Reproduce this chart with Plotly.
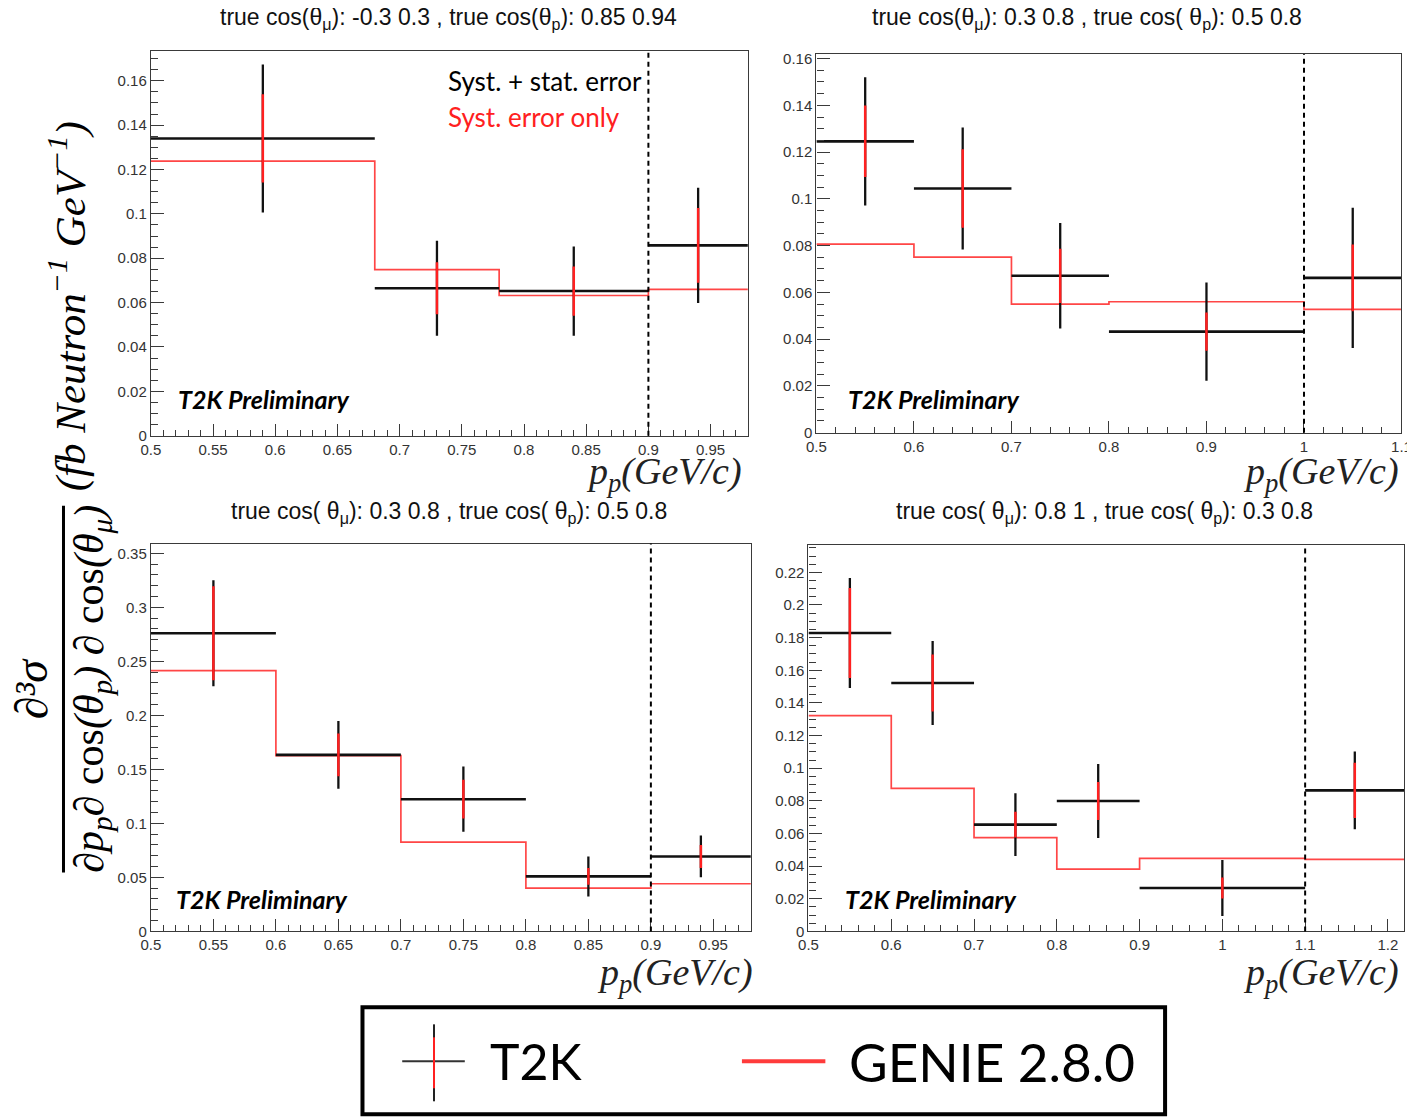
import plotly.graph_objects as go

W, H = 1415, 1117

# ---------------- data ----------------
# Panel 1: true cos(theta_mu) -0.3..0.3, cos(theta_p) 0.85..0.94
edges1 = [0.5, 0.68, 0.78, 0.9, 0.98]
centers1 = [0.59, 0.73, 0.84, 0.94]
t2k1 = [0.134, 0.0665, 0.0652, 0.0858]
tot_err1 = [0.0334, 0.0214, 0.0201, 0.026]
syst_err1 = [0.0199, 0.0117, 0.0111, 0.0168]
genie1 = [0.1238, 0.0749, 0.0632, 0.066]

# Panel 2: cos(theta_mu) 0.3..0.8, cos(theta_p) 0.5..0.8
edges2 = [0.5, 0.6, 0.7, 0.8, 1.0, 1.1]
centers2 = [0.55, 0.65, 0.75, 0.9, 1.05]
t2k2 = [0.1246, 0.1044, 0.0671, 0.0432, 0.0662]
tot_err2 = [0.0274, 0.0261, 0.0226, 0.021, 0.03]
syst_err2 = [0.0153, 0.0168, 0.0116, 0.0082, 0.0143]
genie2 = [0.0806, 0.0751, 0.055, 0.056, 0.0527]

# Panel 3: cos(theta_mu) 0.3..0.8, cos(theta_p) 0.5..0.8
edges3 = [0.5, 0.6, 0.7, 0.8, 0.9, 0.98]
centers3 = [0.55, 0.65, 0.75, 0.85, 0.94]
t2k3 = [0.276, 0.1634, 0.1224, 0.0509, 0.0694]
tot_err3 = [0.049, 0.0313, 0.0302, 0.0185, 0.0193]
syst_err3 = [0.0435, 0.0198, 0.0179, 0.0078, 0.0106]
genie3 = [0.2414, 0.1628, 0.0826, 0.0401, 0.0441]

# Panel 4: cos(theta_mu) 0.8..1, cos(theta_p) 0.3..0.8
edges4 = [0.5, 0.6, 0.7, 0.8, 0.9, 1.1, 1.22]
centers4 = [0.55, 0.65, 0.75, 0.85, 1.0, 1.16]
t2k4 = [0.1828, 0.1522, 0.0654, 0.0799, 0.0266, 0.0864]
tot_err4 = [0.0337, 0.0257, 0.0192, 0.0227, 0.0172, 0.0238]
syst_err4 = [0.0276, 0.0174, 0.0079, 0.0117, 0.0064, 0.0169]
genie4 = [0.1322, 0.0876, 0.0574, 0.0382, 0.0447, 0.0441]

divider_x = [0.9, 1.0, 0.9, 1.1]

titles = [
    "true cos(θ<sub>μ</sub>): -0.3 0.3 , true cos(θ<sub>p</sub>): 0.85 0.94",
    "true cos(θ<sub>μ</sub>): 0.3 0.8 , true cos( θ<sub>p</sub>): 0.5 0.8",
    "true cos( θ<sub>μ</sub>): 0.3 0.8 , true cos( θ<sub>p</sub>): 0.5 0.8",
    "true cos( θ<sub>μ</sub>): 0.8 1 , true cos( θ<sub>p</sub>): 0.3 0.8",
]

xticks1 = [0.5, 0.55, 0.6, 0.65, 0.7, 0.75, 0.8, 0.85, 0.9, 0.95]
xticklabels1 = ["0.5", "0.55", "0.6", "0.65", "0.7", "0.75", "0.8", "0.85", "0.9", "0.95"]
xticks2 = [0.5, 0.6, 0.7, 0.8, 0.9, 1.0, 1.1]
xticklabels2 = ["0.5", "0.6", "0.7", "0.8", "0.9", "1", "1.1"]
xticks4 = [0.5, 0.6, 0.7, 0.8, 0.9, 1.0, 1.1, 1.2]
xticklabels4 = ["0.5", "0.6", "0.7", "0.8", "0.9", "1", "1.1", "1.2"]

yticks1 = [0, 0.02, 0.04, 0.06, 0.08, 0.1, 0.12, 0.14, 0.16]
yticklabels1 = ["0", "0.02", "0.04", "0.06", "0.08", "0.1", "0.12", "0.14", "0.16"]
yticks3 = [0, 0.05, 0.1, 0.15, 0.2, 0.25, 0.3, 0.35]
yticklabels3 = ["0", "0.05", "0.1", "0.15", "0.2", "0.25", "0.3", "0.35"]
yticks4 = [0, 0.02, 0.04, 0.06, 0.08, 0.1, 0.12, 0.14, 0.16, 0.18, 0.2, 0.22]
yticklabels4 = ["0", "0.02", "0.04", "0.06", "0.08", "0.1", "0.12", "0.14", "0.16", "0.18", "0.2", "0.22"]

panels = [
    dict(edges=edges1, centers=centers1, t2k=t2k1, tot=tot_err1, syst=syst_err1, genie=genie1,
         xr=[0.5, 0.98], yr=[0, 0.1735], xt=(xticks1, xticklabels1), yt=(yticks1, yticklabels1),
         xminor=0.01, yminor=0.005, box=(150, 751, 50, 435)),
    dict(edges=edges2, centers=centers2, t2k=t2k2, tot=tot_err2, syst=syst_err2, genie=genie2,
         xr=[0.5, 1.1], yr=[0, 0.162], xt=(xticks2, xticklabels2), yt=(yticks1, yticklabels1),
         xminor=0.02, yminor=0.005, box=(820, 1409, 53, 432)),
    dict(edges=edges3, centers=centers3, t2k=t2k3, tot=tot_err3, syst=syst_err3, genie=genie3,
         xr=[0.5, 0.98], yr=[0, 0.359], xt=(xticks1, xticklabels1), yt=(yticks3, yticklabels3),
         xminor=0.01, yminor=0.01, box=(150, 754, 543, 931)),
    dict(edges=edges4, centers=centers4, t2k=t2k4, tot=tot_err4, syst=syst_err4, genie=genie4,
         xr=[0.5, 1.22], yr=[0, 0.237], xt=(xticks4, xticklabels4), yt=(yticks4, yticklabels4),
         xminor=0.02, yminor=0.005, box=(812, 1412, 544, 931)),
]

title_pos = [(450, 18), (1092, 18), (450, 512), (1110, 512)]
xtitle_pos = [(747, 473), (1409, 473), (758, 975), (1409, 975)]
prelim_pos = [(175, 398), (850, 398), (173, 899), (847, 899)]


# target pixel -> paper coordinates (with a small correction for page offset)
def px(x):
    return ((x - 16.2) / 0.9925) / W


def py(y):
    return 1 - ((y - 11.1) / 0.9898) / H


RED = "#ff2020"
fig = go.Figure()
layout = dict(width=W, height=H, margin=dict(l=0, r=0, t=0, b=0),
              paper_bgcolor="white", plot_bgcolor="white", showlegend=False)

annotations = []
shapes = []

for i, p in enumerate(panels):
    k = "" if i == 0 else str(i + 1)
    xa, ya = "x" + k, "y" + k
    l, r, t, b = p["box"]
    axis_common = dict(showline=True, mirror=True, linecolor="#3a3a3a", linewidth=1.2,
                       ticks="inside", tickcolor="#3a3a3a", showgrid=False, zeroline=False,
                       tickfont=dict(family="Liberation Sans", size=15, color="#333"),
                       tickmode="array")
    layout["xaxis" + k] = dict(axis_common, domain=[px(l), min(px(r), 1.0)], range=p["xr"], anchor=ya,
                               tickvals=p["xt"][0], ticktext=p["xt"][1], ticklen=12,
                               minor=dict(ticks="inside", ticklen=6, tickcolor="#3a3a3a",
                                          tickmode="linear", tick0=0.5, dtick=p["xminor"],
                                          showgrid=False))
    layout["yaxis" + k] = dict(axis_common, domain=[py(b), py(t)], range=p["yr"], anchor=xa,
                               tickvals=p["yt"][0], ticktext=p["yt"][1], ticklen=13,
                               minor=dict(ticks="inside", ticklen=7, tickcolor="#3a3a3a",
                                          tickmode="linear", tick0=0, dtick=p["yminor"],
                                          showgrid=False))

    # GENIE histogram (step)
    fig.add_trace(go.Scatter(x=p["edges"], y=p["genie"] + [p["genie"][-1]], mode="lines",
                             line=dict(color="rgba(255,50,50,0.9)", width=1.7, shape="hv"),
                             xaxis=xa, yaxis=ya, hoverinfo="skip"))
    # T2K horizontal bin bars + error bars
    hx, hy, vx, vy, sx, sy = [], [], [], [], [], []
    for j, v in enumerate(p["t2k"]):
        hx += [p["edges"][j], p["edges"][j + 1], None]
        hy += [v, v, None]
        c = p["centers"][j]
        vx += [c, c, None]
        vy += [v - p["tot"][j], v + p["tot"][j], None]
        sx += [c, c, None]
        sy += [v - p["syst"][j], v + p["syst"][j], None]
    fig.add_trace(go.Scatter(x=hx, y=hy, mode="lines", line=dict(color="#111", width=2.6),
                             xaxis=xa, yaxis=ya, hoverinfo="skip"))
    fig.add_trace(go.Scatter(x=vx, y=vy, mode="lines", line=dict(color="#111", width=2.3),
                             xaxis=xa, yaxis=ya, hoverinfo="skip"))
    fig.add_trace(go.Scatter(x=sx, y=sy, mode="lines", line=dict(color=RED, width=2.5),
                             xaxis=xa, yaxis=ya, hoverinfo="skip"))

    shapes.append(dict(type="line", xref=xa, yref=ya + " domain", x0=divider_x[i], x1=divider_x[i],
                       y0=0, y1=1, line=dict(color="black", width=2, dash="5px,4px")))

    tx, ty = title_pos[i]
    annotations.append(dict(text=titles[i], x=px(tx), y=py(ty), xref="paper", yref="paper",
                            xanchor="center", yanchor="middle", showarrow=False,
                            font=dict(family="Liberation Sans", size=23, color="#111")))
    ax_, ay_ = xtitle_pos[i]
    annotations.append(dict(text="<i>p<sub>p</sub>(GeV/c)</i>", x=px(ax_), y=py(ay_),
                            xref="paper", yref="paper", xanchor="right", yanchor="middle",
                            showarrow=False,
                            font=dict(family="Liberation Serif", size=38, color="#222")))
    qx, qy = prelim_pos[i]
    annotations.append(dict(text="<b><i>T2K Preliminary</i></b>", x=px(qx), y=py(qy),
                            xref="paper", yref="paper", xanchor="left", yanchor="middle",
                            showarrow=False, font=dict(family="Lato", size=25, color="black")))

# in-plot error labels (panel 1)
annotations.append(dict(text="Syst. + stat. error", x=px(447), y=py(80), xref="paper", yref="paper",
                        xanchor="left", yanchor="middle", showarrow=False,
                        font=dict(family="Lato", size=26, color="black")))
annotations.append(dict(text="Syst. error only", x=px(447), y=py(116), xref="paper", yref="paper",
                        xanchor="left", yanchor="middle", showarrow=False,
                        font=dict(family="Lato", size=26, color=RED)))

# big y-axis title (fraction)
annotations.append(dict(text="<i>∂³σ</i>", x=px(30), y=py(688), xref="paper", yref="paper",
                        xanchor="center", yanchor="middle", textangle=-90, showarrow=False,
                        font=dict(family="Liberation Serif", size=46, color="black")))
annotations.append(dict(text="<i>∂p<sub>p</sub>∂</i> cos<i>(θ<sub>p</sub>) ∂</i> cos<i>(θ<sub>μ</sub>)</i>",
                        x=px(90), y=py(688), xref="paper", yref="paper",
                        xanchor="center", yanchor="middle", textangle=-90, showarrow=False,
                        font=dict(family="Liberation Serif", size=42, color="black")))
annotations.append(dict(text="<i>(fb Neutron<sup>−1</sup> GeV<sup>−1</sup>)</i>",
                        x=px(66), y=py(305), xref="paper", yref="paper",
                        xanchor="center", yanchor="middle", textangle=-90, showarrow=False,
                        font=dict(family="Liberation Serif", size=43, color="black")))
shapes.append(dict(type="line", xref="paper", yref="paper", x0=px(62), x1=px(62),
                   y0=py(505), y1=py(872), line=dict(color="black", width=3)))

# legend box
shapes.append(dict(type="rect", xref="paper", yref="paper", x0=px(363), x1=px(1171),
                   y0=py(1007), y1=py(1114), line=dict(color="black", width=4),
                   fillcolor="rgba(0,0,0,0)"))
shapes.append(dict(type="line", xref="paper", yref="paper", x0=px(403), x1=px(466),
                   y0=py(1061), y1=py(1061), line=dict(color="#333", width=2)))
shapes.append(dict(type="line", xref="paper", yref="paper", x0=px(435), x1=px(435),
                   y0=py(1024), y1=py(1101), line=dict(color="#222", width=2)))
shapes.append(dict(type="line", xref="paper", yref="paper", x0=px(435), x1=px(435),
                   y0=py(1037), y1=py(1088), line=dict(color=RED, width=2)))
shapes.append(dict(type="line", xref="paper", yref="paper", x0=px(745), x1=px(829),
                   y0=py(1061), y1=py(1061), line=dict(color="#ff3b3b", width=4)))
annotations.append(dict(text="T2K", x=px(489), y=py(1061), xref="paper", yref="paper",
                        xanchor="left", yanchor="middle", showarrow=False,
                        font=dict(family="Lato", size=50, color="black")))
annotations.append(dict(text="GENIE 2.8.0", x=px(851), y=py(1061), xref="paper", yref="paper",
                        xanchor="left", yanchor="middle", showarrow=False,
                        font=dict(family="Lato", size=53, color="black")))

layout["annotations"] = annotations
layout["shapes"] = shapes
fig.update_layout(**layout)
fig.write_html("out.html")
